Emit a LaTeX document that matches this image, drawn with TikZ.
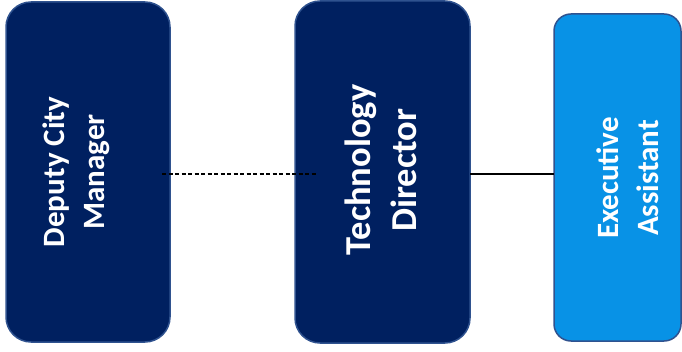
\documentclass[tikz,border=0pt]{standalone}
\usepackage{fontspec}
\setmainfont{Carlito}
\definecolor{navy}{HTML}{002060}
\definecolor{navyedge}{HTML}{2F528F}
\definecolor{skyblue}{HTML}{0892E6}
\begin{document}
\begin{tikzpicture}[x=1pt,y=-1pt,
  card/.style={draw=navyedge, line width=1.5pt, inner sep=0pt, outer sep=0pt},
  cardtext/.style={rotate=90, text=white, align=center, inner sep=0pt,
    font=\fontsize{31}{40}\selectfont\bfseries},
  bigtext/.style={cardtext, font=\fontsize{36.5}{46}\selectfont\bfseries},
  link/.style={line width=1.3pt, black}]
  \useasboundingbox (0,0) rectangle (682,352);
  % cards
  \node[card, fill=navy, rounded corners=25pt, minimum width=164pt, minimum height=340pt] (dcm) at (88,172) {};
  \node[card, fill=navy, rounded corners=25pt, minimum width=175pt, minimum height=342pt] (td) at (382.5,172) {};
  \node[card, fill=skyblue, rounded corners=17pt, minimum width=127pt, minimum height=327pt] (ea) at (617.5,177.5) {};
  % titles
  \node[cardtext] (dcmt) at (76,172) {Deputy City\\Manager};
  \node[bigtext] (tdt) at (381,170) {Technology\\Director};
  \node[cardtext] (eat) at (628,178) {Executive\\Assistant};
  % reporting lines
  \draw[link, dash pattern=on 4pt off 2.5pt] ([xshift=-8pt,yshift=-2pt]dcm.east) -- ([xshift=22pt,yshift=-2pt]td.west);
  \draw[link] ([yshift=-2pt]td.east) -- ([yshift=3.5pt]ea.west);
\end{tikzpicture}
\end{document}
